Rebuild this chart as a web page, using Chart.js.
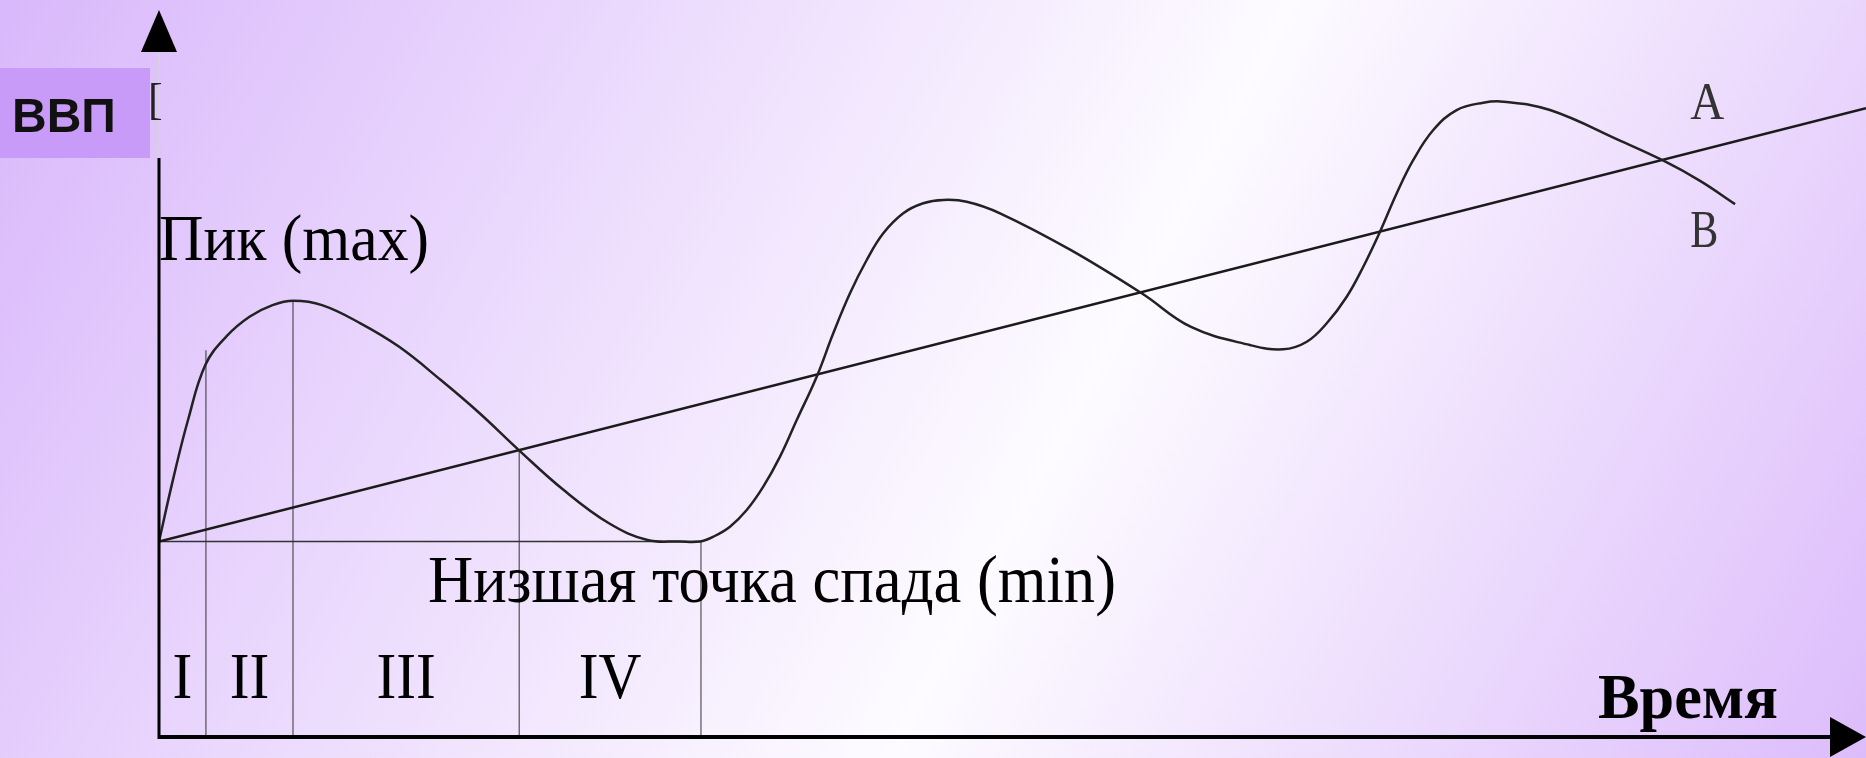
<!DOCTYPE html>
<html>
<head>
<meta charset="utf-8">
<script src="https://cdn.jsdelivr.net/npm/chart.js@4.4.1/dist/chart.umd.min.js"></script>
<style>
html, body { margin: 0; padding: 0; }
body {
    width: 1866px; height: 758px; overflow: hidden;
    background: linear-gradient(118deg, #d9b8fb 0%, #fdfbff 57%, #dcbcfb 100%);
}
#wrap { position: relative; width: 1866px; height: 758px; }
</style>
</head>
<body>
<div id="wrap"><canvas id="cycleChart" width="1866" height="758"></canvas></div>
<script>
// business cycle curve (time, GDP)
const cycleTime = [0, 0.82, 1.7, 2.72, 3.95, 5.3, 6.65, 7.88, 9.55, 11.8, 14.05, 16.51, 18.75, 21.11, 23.69, 26.36, 28.62, 30.52, 31.69, 32.47, 33.45, 34.43, 35.4, 36.38, 37.36, 38.53, 39.5, 40.48, 41.46, 42.43, 43.6, 44.77, 45.95, 47.32, 49.27, 53.4, 57.59, 60.46, 63.91, 65.86, 67.24, 68.41, 69.58, 70.55, 71.53, 72.51, 73.48, 74.65, 76.02, 77.58, 78.75, 81.49, 85.62, 88.11, 90.28, 92.33];
const cycleGdp = [26.9, 35.4, 43.6, 51.2, 55.1, 57.8, 59.4, 60.0, 59.4, 56.9, 53.7, 49.1, 44.6, 39.4, 34.0, 29.4, 27.1, 26.9, 26.9, 27.55, 28.93, 31.22, 34.43, 38.56, 43.6, 49.56, 55.53, 61.03, 65.61, 69.28, 72.04, 73.41, 73.87, 73.63, 72.04, 67.0, 61.0, 56.4, 53.92, 53.33, 54.37, 56.91, 60.56, 64.69, 69.5, 74.79, 79.37, 83.49, 86.24, 87.25, 87.39, 86.24, 82.0, 79.3, 76.5, 73.3];

// long-run trend line
const trendTime = [0, 100];
const trendGdp = [26.9, 86.5];

// phase boundaries and the trough level
const phaseTime = [2.75, 7.85, 21.1, 31.75];
const phaseTop = [53.2, 60.0, 39.4, 26.9];
const phaseNames = ['I', 'II', 'III', 'IV'];
const troughLevel = 26.9;

const pts = (xs, ys) => xs.map((x, i) => ({ x: x, y: ys[i] }));

const phaseSets = phaseTime.map((t, i) => ({
    data: [{ x: t, y: 0 }, { x: t, y: phaseTop[i] }],
    showLine: true,
    borderColor: '#333',
    borderWidth: 1,
    pointRadius: 0
}));

// midpoints between phase boundaries for the roman numerals
const phaseMid = phaseTime.map((t, i) => (t + (i === 0 ? 0 : phaseTime[i - 1])) / 2);

const serif = '"Liberation Serif", "Times New Roman", serif';

const labels = [
    { text: 'Пик (max)', t: 0, g: 65.6, font: '66px ' + serif, width: 270 },
    { text: 'Низшая точка спада (min)', t: 15.76, g: 18.6, font: '67px ' + serif, width: 688 },
    { text: 'Время', t: 84.3, g: 2.6, font: 'bold 64px ' + serif, width: 180 },
    { text: 'A', t: 89.7, g: 85.0, font: '52px ' + serif, width: 34, color: '#333' },
    { text: 'B', t: 89.7, g: 67.4, font: '52px ' + serif, width: 28, color: '#333' }
].concat(phaseNames.map((n, i) => ({
    text: n, t: phaseMid[i], g: 5.36, font: '66px ' + serif, center: true, squeeze: 0.9
})));

const sketchPlugin = {
    id: 'sketch',
    afterDraw(chart, args, opts) {
        const ctx = chart.ctx;
        const xs = chart.scales.x, ys = chart.scales.y;
        const ax = xs.getPixelForValue(0);
        const ay = ys.getPixelForValue(0);
        const top = chart.chartArea.top;
        const right = chart.chartArea.right;

        ctx.save();
        // GDP tag box
        ctx.fillStyle = '#c99bf9';
        ctx.fillRect(0, 68, 150, 90);
        ctx.fillStyle = '#111';
        ctx.font = 'bold 48px "Liberation Sans", Arial, sans-serif';
        ctx.textBaseline = 'alphabetic';
        ctx.fillText('ВВП', 12, 132);

        // faint upper part of the y axis and the stray bracket
        ctx.strokeStyle = '#d8d0e0';
        ctx.lineWidth = 2;
        ctx.beginPath();
        ctx.moveTo(ax, top + 40);
        ctx.lineTo(ax, 158);
        ctx.stroke();
        ctx.fillStyle = '#222';
        ctx.font = '44px ' + serif;
        ctx.fillText('[', 148, 114);

        // axes
        ctx.strokeStyle = '#000';
        ctx.lineWidth = 3;
        ctx.beginPath();
        ctx.moveTo(ax, 158);
        ctx.lineTo(ax, ay + 2);
        ctx.stroke();
        ctx.lineWidth = 4;
        ctx.beginPath();
        ctx.moveTo(ax - 1, ay);
        ctx.lineTo(right - 30, ay);
        ctx.stroke();

        // arrow heads
        ctx.fillStyle = '#000';
        ctx.beginPath();
        ctx.moveTo(ax, top);
        ctx.lineTo(ax - 18, top + 42);
        ctx.lineTo(ax + 18, top + 42);
        ctx.closePath();
        ctx.fill();
        ctx.beginPath();
        ctx.moveTo(right, ay);
        ctx.lineTo(right - 36, ay - 20);
        ctx.lineTo(right - 36, ay + 20);
        ctx.closePath();
        ctx.fill();

        // text labels, squeezed to the widths seen in the picture
        opts.items.forEach(it => {
            ctx.font = it.font;
            ctx.fillStyle = it.color || '#000';
            const w = ctx.measureText(it.text).width;
            const sx = it.width ? it.width / w : (it.squeeze || 1);
            let x = xs.getPixelForValue(it.t);
            if (it.center) x -= w * sx / 2;
            ctx.save();
            ctx.translate(x, ys.getPixelForValue(it.g));
            ctx.scale(sx, 1);
            ctx.fillText(it.text, 0, 0);
            ctx.restore();
        });
        ctx.restore();
    }
};

new Chart(document.getElementById('cycleChart').getContext('2d'), {
    type: 'scatter',
    data: {
        datasets: [
            {
                data: pts(cycleTime, cycleGdp),
                showLine: true,
                borderColor: '#222',
                borderWidth: 2.5,
                pointRadius: 0,
                tension: 0.4
            },
            {
                data: pts(trendTime, trendGdp),
                showLine: true,
                borderColor: '#1a1a1a',
                borderWidth: 2.5,
                pointRadius: 0
            },
            {
                data: pts([0, phaseTime[3]], [troughLevel, troughLevel]),
                showLine: true,
                borderColor: '#333',
                borderWidth: 1.5,
                pointRadius: 0
            }
        ].concat(phaseSets)
    },
    options: {
        responsive: false,
        animation: false,
        devicePixelRatio: 1,
        layout: { padding: { left: 159, right: 0, top: 10, bottom: 21 } },
        plugins: {
            legend: { display: false },
            tooltip: { enabled: false },
            sketch: { items: labels }
        },
        scales: {
            x: { type: 'linear', min: 0, max: 100, display: false },
            y: { type: 'linear', min: 0, max: 100, display: false }
        }
    },
    plugins: [sketchPlugin]
});
</script>
</body>
</html>
